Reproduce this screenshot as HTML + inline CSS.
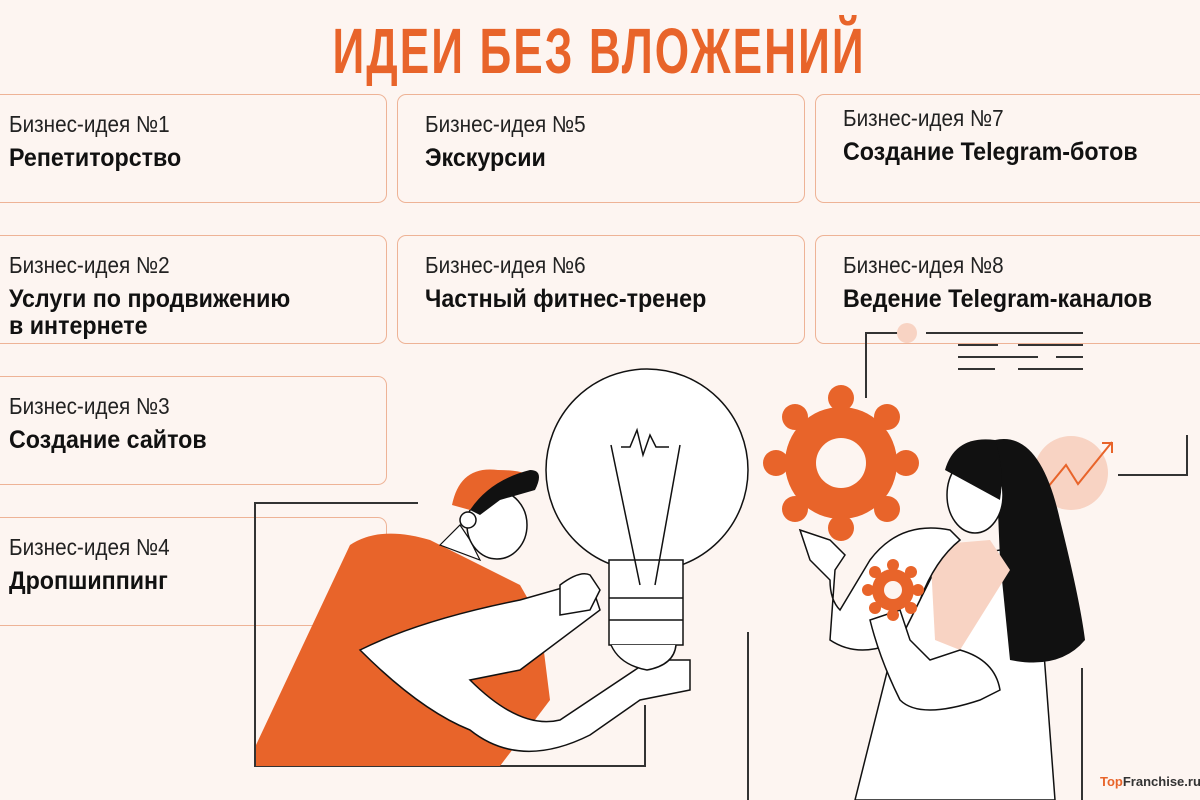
<!DOCTYPE html>
<html><head><meta charset="utf-8"><style>
body{margin:0;width:1200px;height:800px;background:#fdf5f1;overflow:hidden;position:relative;font-family:"Liberation Sans",sans-serif}
.t{position:absolute;left:0;width:1200px;top:14px;text-align:center;color:#e8642a;font-weight:bold;font-size:64px;letter-spacing:3px;transform:scaleX(0.69);transform-origin:597px 0}
.b{position:absolute;border:1.5px solid #eeb396;border-radius:9px;height:109px;box-sizing:border-box}
.b .l{position:absolute;left:10px;top:16px;font-size:23px;color:#222;font-weight:normal;white-space:nowrap;transform:scaleX(0.9);transform-origin:0 0}
.b .n{position:absolute;left:10px;top:50px;font-size:25px;color:#111;font-weight:bold;line-height:27px;white-space:nowrap;transform:scaleX(0.93);transform-origin:0 0}
svg{position:absolute;left:0;top:0}
</style></head><body>
<div class="t">ИДЕИ БЕЗ ВЛОЖЕНИЙ</div>
<div class="b" style="left:-10px;width:397px;top:94px"><div class="l" style="left:18px">Бизнес-идея №1</div><div class="n" style="left:18px">Репетиторство</div></div>
<div class="b" style="left:-10px;width:397px;top:235px"><div class="l" style="left:18px">Бизнес-идея №2</div><div class="n" style="left:18px">Услуги по продвижению<br>в интернете</div></div>
<div class="b" style="left:-10px;width:397px;top:376px"><div class="l" style="left:18px">Бизнес-идея №3</div><div class="n" style="left:18px">Создание сайтов</div></div>
<div class="b" style="left:-10px;width:397px;top:517px"><div class="l" style="left:18px">Бизнес-идея №4</div><div class="n" style="left:18px">Дропшиппинг</div></div>
<div class="b" style="left:397px;width:408px;top:94px"><div class="l" style="left:27px">Бизнес-идея №5</div><div class="n" style="left:27px">Экскурсии</div></div>
<div class="b" style="left:397px;width:408px;top:235px"><div class="l" style="left:27px">Бизнес-идея №6</div><div class="n" style="left:27px">Частный фитнес-тренер</div></div>
<div class="b" style="left:815px;width:400px;top:94px"><div class="l" style="left:27px;top:10px">Бизнес-идея №7</div><div class="n" style="left:27px;top:44px">Создание Telegram-ботов</div></div>
<div class="b" style="left:815px;width:400px;top:235px"><div class="l" style="left:27px">Бизнес-идея №8</div><div class="n" style="left:27px">Ведение Telegram-каналов</div></div>

<svg width="1200" height="800" viewBox="0 0 1200 800">
<g fill="none" stroke="#333" stroke-width="2">
<path d="M418 503H255V766H645V705"/>
<path d="M748 632V800"/>
<path d="M866 398V333H898"/>
<path d="M926 333H1083M958 345H998M1018 345H1083M958 357H1038M1056 357H1083M958 369H995M1018 369H1083"/>
<path d="M1187 435V475H1118"/>
<path d="M1082 668V800"/>
</g>
<circle cx="907" cy="333" r="10" fill="#f8d3c3"/>
<circle cx="1071" cy="473" r="37" fill="#f8d3c3"/>
<path d="M1048 487L1066 465L1078 484L1112 442M1102 443H1112V453" fill="none" stroke="#e8642a" stroke-width="2"/>
<!-- man -->
<path d="M256 745L350 545Q380 525 430 540L470 560L520 585L540 620L550 700L500 766H256Z" fill="#e8642a"/>
<path d="M360 650Q420 620 520 600L590 580L600 610L520 670L470 680Q520 730 560 720L650 660L690 660L690 690L640 700L590 735Q520 770 470 730Q420 710 360 650Z" fill="#fff" stroke="#111" stroke-width="1.5"/>
<path d="M440 545L460 525L470 540L480 560Z" fill="#fff" stroke="#111" stroke-width="1.2"/>
<ellipse cx="497" cy="525" rx="30" ry="34" fill="#fff" stroke="#111" stroke-width="1.5"/>
<path d="M452 505Q460 465 498 470Q530 470 530 480L470 510Z" fill="#e8642a"/>
<path d="M470 510Q490 480 530 470Q545 470 535 490L500 500L480 515Z" fill="#111"/>
<circle cx="468" cy="520" r="8" fill="#fff" stroke="#111" stroke-width="1.5"/>
<circle cx="647" cy="470" r="101" fill="#fff" stroke="#111" stroke-width="1.5"/>
<rect x="609" y="560" width="74" height="85" fill="#fff" stroke="#111" stroke-width="1.5"/>
<path d="M609 598H683M609 620H683" stroke="#111" stroke-width="1.5"/>
<path d="M611 645Q620 665 647 670Q674 665 676 645" fill="#fff" stroke="#111" stroke-width="1.5"/>
<path d="M611 445L640 585M680 445L655 585M621 447H630L637 430L643 455L650 435L656 447H669" fill="none" stroke="#111" stroke-width="1.5"/>
<path d="M560 585Q580 570 590 575L600 590L590 610L560 615Z" fill="#fff" stroke="#111" stroke-width="1.5"/>
<!-- woman -->
<path d="M940 560L1000 550L1040 600L1055 800H855L890 660Z" fill="#fff" stroke="#111" stroke-width="1.5"/>
<path d="M995 440Q1040 430 1060 520Q1080 600 1085 640Q1060 670 1010 660L1000 560Z" fill="#111"/>
<ellipse cx="975" cy="495" rx="28" ry="38" fill="#fff" stroke="#111" stroke-width="1.5"/>
<path d="M945 470Q955 435 995 440Q1005 470 1000 500Z" fill="#111"/>
<path d="M930 545L990 540L1010 570L960 650L935 640Z" fill="#f8d3c3"/>
<path d="M800 530L830 540L845 555L835 570L830 640Q860 660 900 640L920 600Q935 560 960 540L950 530Q900 520 870 560L840 610Q830 600 830 580L810 560Z" fill="#fff" stroke="#111" stroke-width="1.5"/>
<path d="M870 620Q880 660 900 700Q920 720 980 700L1000 690Q995 660 960 650L930 660L910 640L900 610Z" fill="#fff" stroke="#111" stroke-width="1.5"/>
<g fill="#e8642a">
<circle cx="841" cy="463" r="56"/>
<circle cx="841" cy="398" r="13"/><circle cx="841" cy="528" r="13"/><circle cx="776" cy="463" r="13"/><circle cx="906" cy="463" r="13"/><circle cx="795" cy="417" r="13"/><circle cx="887" cy="417" r="13"/><circle cx="795" cy="509" r="13"/><circle cx="887" cy="509" r="13"/>
<circle cx="893" cy="590" r="21"/>
<circle cx="893" cy="565" r="6"/><circle cx="893" cy="615" r="6"/><circle cx="868" cy="590" r="6"/><circle cx="918" cy="590" r="6"/><circle cx="875" cy="572" r="6"/><circle cx="911" cy="572" r="6"/><circle cx="875" cy="608" r="6"/><circle cx="911" cy="608" r="6"/>
</g>
<circle cx="841" cy="463" r="25" fill="#fdf5f1"/>
<circle cx="893" cy="590" r="9" fill="#fdf5f1"/>
<text x="1100" y="786" font-family="Liberation Sans" font-weight="bold" font-size="13" fill="#333"><tspan fill="#e8642a">Top</tspan>Franchise.ru</text>
</svg>
</body></html>
